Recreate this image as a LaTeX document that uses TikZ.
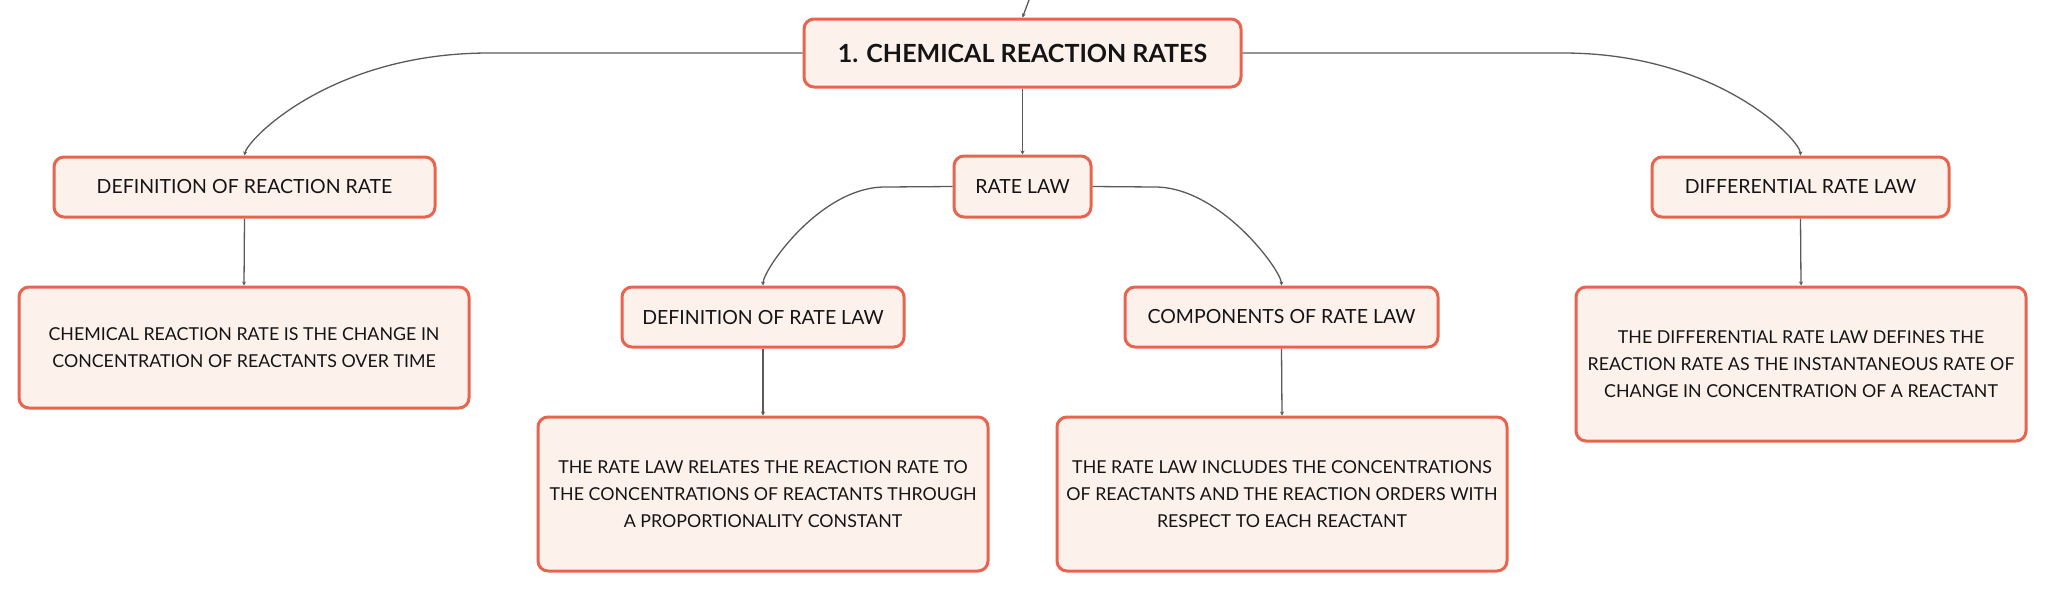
\documentclass[tikz,border=0pt]{standalone}
\usepackage{fontspec}
\setmainfont{Lato}
\usetikzlibrary{arrows.meta}
\definecolor{boxline}{HTML}{E8644F}
\definecolor{boxfill}{HTML}{FDF1EC}
\definecolor{conn}{HTML}{5A5A5A}
\definecolor{txt}{HTML}{141414}
\tikzset{
  box/.style={draw=boxline, fill=boxfill, line width=1.5pt, rounded corners=5pt,
    align=center, inner sep=0pt, text=txt},
  titlebox/.style={box, font=\fontsize{12.5}{15}\selectfont\bfseries},
  midbox/.style={box, font=\fontsize{9.75}{12}\selectfont},
  leafbox/.style={box, font=\fontsize{8.9}{13.6}\selectfont},
  conn/.style={draw=conn, line width=0.65pt, -{Stealth[length=2pt,width=2pt]}}
}
\begin{document}
\begin{tikzpicture}[x=0.5pt,y=-0.5pt]
\useasboundingbox (0,0) rectangle (2046,591);
% nodes
\node[titlebox, minimum width=218.5pt, minimum height=34pt] (title) at (1022.5,53) {1. CHEMICAL REACTION RATES};
\node[midbox, minimum width=68.5pt, minimum height=30.5pt] (ratelaw) at (1022.5,186.5) {RATE LAW};
\node[midbox, minimum width=190.5pt, minimum height=30pt] (defrr) at (244.5,187) {DEFINITION OF REACTION RATE};
\node[leafbox, minimum width=225pt, minimum height=60.5pt] (defrrC) at (244,347.5) {CHEMICAL REACTION RATE IS THE CHANGE IN\\CONCENTRATION OF REACTANTS OVER TIME};
\node[midbox, minimum width=148.5pt, minimum height=30pt] (diff) at (1800.5,187) {DIFFERENTIAL RATE LAW};
\node[leafbox, minimum width=225pt, minimum height=77pt] (diffC) at (1801,364) {THE DIFFERENTIAL RATE LAW DEFINES THE\\REACTION RATE AS THE INSTANTANEOUS RATE OF\\CHANGE IN CONCENTRATION OF A REACTANT};
\node[midbox, minimum width=141pt, minimum height=30pt] (defrl) at (763,317) {DEFINITION OF RATE LAW};
\node[leafbox, minimum width=225pt, minimum height=77pt] (defrlC) at (763,494) {THE RATE LAW RELATES THE REACTION RATE TO\\THE CONCENTRATIONS OF REACTANTS THROUGH\\A PROPORTIONALITY CONSTANT};
\node[midbox, minimum width=156.5pt, minimum height=30pt] (comp) at (1281.5,317) {COMPONENTS OF RATE LAW};
\node[leafbox, minimum width=225pt, minimum height=77pt] (compC) at (1282,494) {THE RATE LAW INCLUDES THE CONCENTRATIONS\\OF REACTANTS AND THE REACTION ORDERS WITH\\RESPECT TO EACH REACTANT};
\coordinate (top) at (1029,0);
% connectors
\draw[conn] (top) -- (title.north);
\draw[conn] (title.west) -- (489,53) .. controls (330,53) and (247,140) .. (defrr.north);
\draw[conn] (title.east) -- (1563,53) .. controls (1718,53) and (1800,140) .. (diff.north);
\draw[conn] (title.south) -- (ratelaw.north);
\draw[conn] (ratelaw.west) -- (885,187) .. controls (820,187) and (763,270) .. (defrl.north);
\draw[conn] (ratelaw.east) -- (1155,187) .. controls (1220,187) and (1281,270) .. (comp.north);
\draw[conn] (defrr.south) -- (defrrC.north);
\draw[conn] (diff.south) -- (diffC.north);
\draw[conn] (defrl.south) -- (defrlC.north);
\draw[conn] (comp.south) -- (compC.north);
\end{tikzpicture}
\end{document}
